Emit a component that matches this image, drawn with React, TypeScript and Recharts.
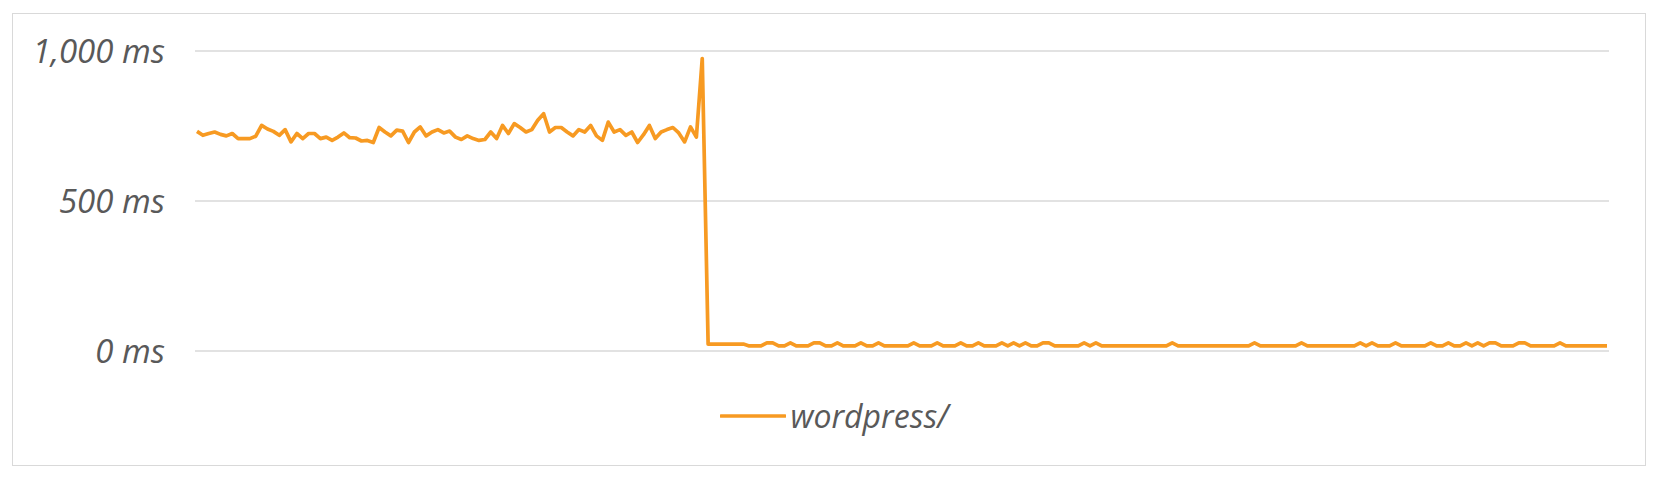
import React from "react";
import { LineChart, Line, XAxis, YAxis, CartesianGrid, Legend } from "recharts";

// Response time of "wordpress/" per sample, in ms
const wordpressMs: number[] = [
  // samples 1-87 (before the drop, last one is the spike)
  732, 719, 725, 730, 722, 717, 725, 708, 708, 708,
  716, 752, 740, 732, 719, 738, 697, 725, 708, 725,
  725, 708, 713, 702, 713, 727, 711, 710, 700, 702,
  695, 745, 730, 717, 736, 733, 695, 730, 747, 717,
  730, 738, 727, 733, 713, 705, 717, 708, 702, 705,
  730, 708, 752, 725, 758, 745, 730, 738, 769, 791,
  730, 745, 745, 730, 717, 738, 730, 752, 717, 702,
  763, 730, 738, 719, 730, 695, 721, 752, 708, 730,
  738, 745, 727, 697, 747, 713, 975,
  // samples 88-241 (after the drop)
  23, 23, 23, 23, 23, 23, 23, 17, 17, 17,
  27, 27, 17, 17, 27, 17, 17, 17, 27, 27,
  17, 17, 27, 17, 17, 17, 27, 17, 17, 27,
  17, 17, 17, 17, 17, 27, 17, 17, 17, 27,
  17, 17, 17, 27, 17, 17, 27, 17, 17, 17,
  27, 17, 27, 17, 27, 17, 17, 27, 27, 17,
  17, 17, 17, 17, 27, 17, 27, 17, 17, 17,
  17, 17, 17, 17, 17, 17, 17, 17, 17, 27,
  17, 17, 17, 17, 17, 17, 17, 17, 17, 17,
  17, 17, 17, 27, 17, 17, 17, 17, 17, 17,
  17, 27, 17, 17, 17, 17, 17, 17, 17, 17,
  17, 27, 17, 27, 17, 17, 17, 27, 17, 17,
  17, 17, 17, 27, 17, 17, 27, 17, 17, 27,
  17, 27, 17, 27, 27, 17, 17, 17, 27, 27,
  17, 17, 17, 17, 17, 27, 17, 17, 17, 17,
  17, 17, 17, 17,
];

const samples: string[] = wordpressMs.map((_, i) => String(i + 1));

const yTicks: number[] = [0, 500, 1000];
const seriesName = "wordpress/";

const data = samples.map((s, i) => ({ sample: s, value: wordpressMs[i] }));

const ORANGE = "#F79A22";
const TEXT = "#595959";
const GRID = "#D9D9D9";
const FONT = "'Open Sans', 'DejaVu Sans', sans-serif";

const fmtMs = (v: number) => `${v.toLocaleString("en-US")} ms`;

const LegendContent = () => (
  <div
    style={{
      display: "flex",
      justifyContent: "center",
      alignItems: "center",
      width: "100%",
      height: 40,
    }}
  >
    <svg width={66} height={10} style={{ marginRight: 5 }}>
      <line x1={1} y1={5} x2={65} y2={5} stroke={ORANGE} strokeWidth={3.5} strokeLinecap="round" />
    </svg>
    <span
      style={{
        fontFamily: FONT,
        fontStyle: "italic",
        fontSize: 32,
        color: TEXT,
        lineHeight: "40px",
      }}
    >
      {seriesName}
    </span>
  </div>
);

export default function App() {
  return (
    <div style={{ position: "absolute", left: 0, top: 0, width: 1668, height: 486, background: "#fff" }}>
      <div
        style={{
          position: "absolute",
          left: 12,
          top: 13,
          width: 1634,
          height: 453,
          border: `1.5px solid ${GRID}`,
          boxSizing: "border-box",
        }}
      />
      <div style={{ position: "absolute", left: 0, top: 0 }}>
        <LineChart
          width={1668}
          height={486}
          data={data}
          margin={{ top: 51, right: 59, bottom: 95, left: 0 }}
        >
          <CartesianGrid vertical={false} stroke={GRID} strokeWidth={1.5} />
          <XAxis dataKey="sample" hide padding={{ left: 2, right: 2 }} />
          <YAxis
            width={195}
            domain={[0, 1000]}
            ticks={yTicks}
            tickFormatter={fmtMs}
            axisLine={false}
            tickLine={false}
            tickSize={0}
            tickMargin={30}
            tick={{ fill: TEXT, fontSize: 33, fontStyle: "italic", fontFamily: FONT }}
          />
          <Legend
            verticalAlign="bottom"
            height={40}
            content={<LegendContent />}
            wrapperStyle={{ left: 0, width: 1668, bottom: 50 }}
          />
          <Line
            type="linear"
            dataKey="value"
            name={seriesName}
            stroke={ORANGE}
            strokeWidth={3.7}
            strokeLinejoin="round"
            dot={false}
            activeDot={false}
            isAnimationActive={false}
          />
        </LineChart>
      </div>
    </div>
  );
}
